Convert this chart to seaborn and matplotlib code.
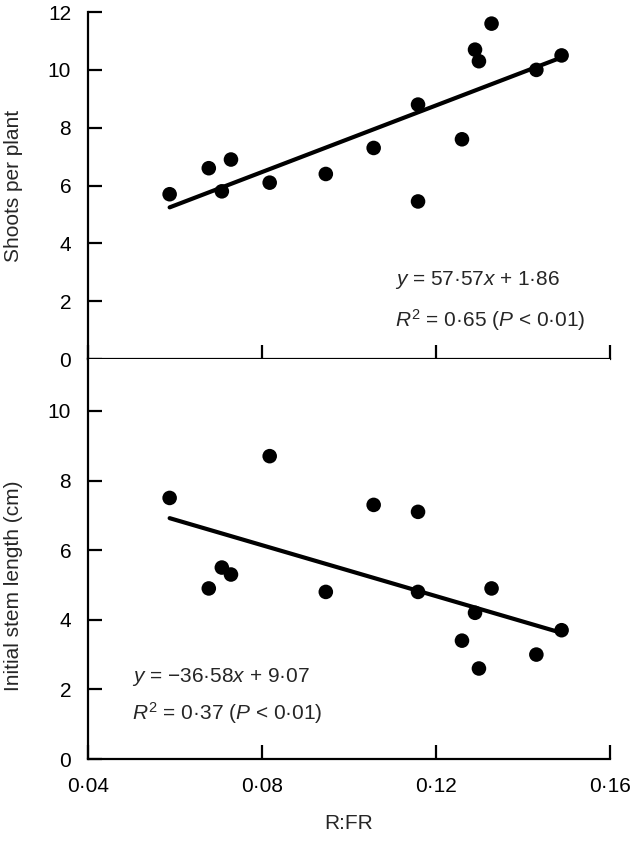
#importing packages
import numpy as np
import pandas as pd
import matplotlib
matplotlib.use('Agg')
import matplotlib.pyplot as plt
from matplotlib.ticker import FixedLocator
import seaborn as sns

sns.set_theme(style='ticks')
plt.rcParams['font.family'] = ['Liberation Sans', 'DejaVu Sans']
plt.rcParams['mathtext.fontset'] = 'custom'
plt.rcParams['mathtext.rm'] = 'Liberation Sans'
plt.rcParams['mathtext.it'] = 'Liberation Sans:italic'
plt.rcParams['xtick.direction'] = 'in'
plt.rcParams['ytick.direction'] = 'in'

#data
rfr = [0.0588, 0.0678, 0.0708, 0.0729, 0.0818, 0.0947, 0.1057, 0.1159, 0.1159,
       0.1260, 0.1290, 0.1299, 0.1328, 0.1431, 0.1489]
shoots = [5.7, 6.6, 5.8, 6.9, 6.1, 6.4, 7.3, 8.8, 5.45, 7.6, 10.7, 10.3, 11.6, 10.0, 10.5]
stem = [7.5, 4.9, 5.5, 5.3, 8.7, 4.8, 7.3, 7.1, 4.8, 3.4, 4.2, 2.6, 4.9, 3.0, 3.7]

#regression coefficients printed on the figure
shoots_fit = (57.57, 1.86)
stem_fit = (-36.58, 9.07)

x_ticks = [0.04, 0.08, 0.12, 0.16]
x_ticklabels = ['0·04', '0·08', '0·12', '0·16']
shoots_yticks = [0, 2, 4, 6, 8, 10, 12]
stem_yticks = [0, 2, 4, 6, 8, 10]

df = pd.DataFrame({'R:FR': rfr, 'shoots': shoots, 'stem': stem})

def fit_line(x, coef):
    xs = np.array([min(x), max(x)])
    return pd.DataFrame({'x': xs, 'y': coef[0] * xs + coef[1]})

fs = 15
fig = plt.figure(figsize=(6.32, 8.49), dpi=100)
ax1 = fig.add_axes([0.139, 0.5771, 0.826, 0.4087])
ax2 = fig.add_axes([0.139, 0.106, 0.826, 0.4711])

#top panel - shoots per plant
sns.lineplot(data=fit_line(rfr, shoots_fit), x='x', y='y', ax=ax1, color='black', lw=3)
sns.scatterplot(data=df, x='R:FR', y='shoots', ax=ax1, color='black', s=110, edgecolor='none', zorder=3)
ax1.set_ylim(0, 12)
ax1.yaxis.set_major_locator(FixedLocator(shoots_yticks))
ax1.set_yticklabels([str(v) for v in shoots_yticks])
ax1.set_xlabel('')
ax1.set_ylabel('Shoots per plant', fontsize=fs)
ax1.yaxis.set_label_coords(-0.1245, 0.5)
ax1.text(0.1106, 2.73, r'$y$ = 57·57$x$ + 1·86', fontsize=fs, va='center')
ax1.text(0.1106, 1.35, r'$R^2$ = 0·65 ($P$ < 0·01)', fontsize=fs, va='center')

#bottom panel - initial stem length
sns.lineplot(data=fit_line(rfr, stem_fit), x='x', y='y', ax=ax2, color='black', lw=3)
sns.scatterplot(data=df, x='R:FR', y='stem', ax=ax2, color='black', s=110, edgecolor='none', zorder=3)
ax2.set_ylim(0, 11.49)
ax2.yaxis.set_major_locator(FixedLocator(stem_yticks))
ax2.set_yticklabels([str(v) for v in stem_yticks])
ax2.set_xlabel('R:FR', fontsize=fs, labelpad=13)
ax2.set_ylabel('Initial stem length (cm)', fontsize=fs)
ax2.yaxis.set_label_coords(-0.1245, 0.4325)
ax2.text(0.0501, 2.36, r'$y$ = −36·58$x$ + 9·07', fontsize=fs, va='center')
ax2.text(0.0501, 1.32, r'$R^2$ = 0·37 ($P$ < 0·01)', fontsize=fs, va='center')

for ax in [ax1, ax2]:
    ax.set_xlim(0.04, 0.16)
    ax.set_xticks(x_ticks)
    if ax is ax1:
        ax.set_xticklabels([])
    else:
        ax.set_xticklabels(x_ticklabels)
    sns.despine(ax=ax)
    for sp in ['left', 'bottom']:
        ax.spines[sp].set_linewidth(1.6)
        ax.spines[sp].set_color('black')
    ax.tick_params(axis='both', direction='in', length=10, width=1.6, color='black',
                   labelsize=fs, labelcolor='black')
    ax.tick_params(axis='y', pad=12)
    ax.tick_params(axis='x', pad=13)
    ax.set_facecolor('white')

plt.savefig('out.png', dpi=100, facecolor='white')
